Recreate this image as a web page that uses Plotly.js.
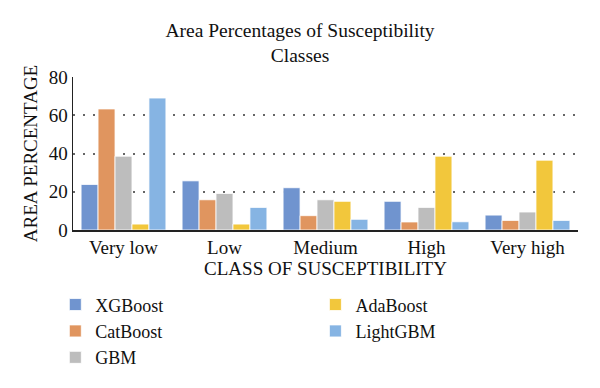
<!DOCTYPE html>
<html><head><meta charset="utf-8">
<script src="https://cdn.plot.ly/plotly-3.0.1.min.js"></script>
<style>html,body{margin:0;padding:0;background:#fff}</style>
</head><body><div id="chart" style="width:600px;height:388px"></div>
<script>
const categories = ["Very low", "Low", "Medium", "High", "Very high"];
const xgboost  = [23.8, 25.7, 22.1, 15.0, 7.8];
const catboost = [63.3, 15.8, 7.5, 4.2, 5.0];
const gbm      = [38.6, 19.1, 15.8, 11.8, 9.4];
const adaboost = [3.1, 3.1, 15.0, 38.6, 36.5];
const lightgbm = [69.0, 11.8, 5.6, 4.3, 5.0];
const yTicks = [0, 20, 40, 60, 80];

const font = "Liberation Serif, DejaVu Serif, serif";
function bar(name, y, color, legend) {
  return {type: "bar", name: name, x: categories, y: y, legend: legend,
    marker: {color: color, line: {color: "#ffffff", width: 0.8}}};
}
const data = [
  bar("XGBoost", xgboost, "#7094cf", "legend"),
  bar("CatBoost", catboost, "#e0955f", "legend"),
  bar("GBM", gbm, "#bdbdbd", "legend"),
  bar("AdaBoost", adaboost, "#f2c73c", "legend2"),
  bar("LightGBM", lightgbm, "#86b4e3", "legend2")
];
const legendCommon = {font: {family: font, size: 18, color: "#111"}, bgcolor: "rgba(0,0,0,0)",
  xref: "paper", yref: "container", xanchor: "left", yanchor: "top", tracegroupgap: 0, itemwidth: 30};
const layout = {
  width: 600, height: 388,
  margin: {l: 73, r: 22, t: 77, b: 158},
  paper_bgcolor: "#fff", plot_bgcolor: "#fff",
  font: {family: font, color: "#111"},
  title: {text: "Area Percentages of Susceptibility<br>Classes", font: {family: font, size: 19.5, color: "#111"},
    x: 0.5, xanchor: "center", y: 0.905, yanchor: "top"},
  barmode: "group", bargap: 0.16, bargroupgap: 0,
  xaxis: {showline: true, linecolor: "#222", linewidth: 1.5, showgrid: false, ticks: "",
    tickfont: {family: font, size: 19, color: "#111"},
    title: {text: "CLASS OF SUSCEPTIBILITY", font: {family: font, size: 19, color: "#111"}, standoff: 4}},
  yaxis: {range: [0, 80], tickvals: yTicks, ticktext: yTicks.map(String), showline: true, linecolor: "#222", linewidth: 1.5,
    showgrid: true, gridcolor: "#666", gridwidth: 2, griddash: "2px,8px", zeroline: false, ticks: "",
    tickfont: {family: font, size: 19, color: "#111"},
    title: {text: "AREA PERCENTAGE", font: {family: font, size: 19, color: "#111"}, standoff: 6}},
  legend: Object.assign({}, legendCommon, {x: -0.035, y: 0.262}),
  legend2: Object.assign({}, legendCommon, {x: 0.48, y: 0.262}),
  showlegend: true
};
Plotly.newPlot("chart", data, layout, {displayModeBar: false, staticPlot: true});
</script></body></html>
